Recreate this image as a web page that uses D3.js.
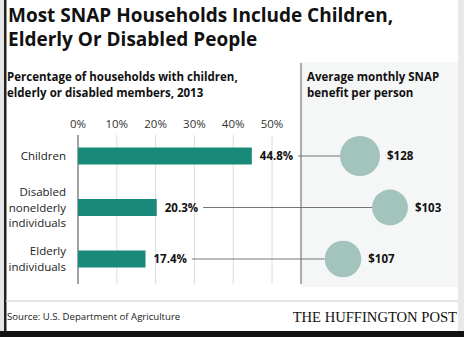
<!DOCTYPE html>
<html>
<head>
<meta charset="utf-8">
<script src="https://cdn.jsdelivr.net/npm/d3@7"></script>
<style>
  body { margin: 0; background: #fff; }
  svg { display: block; font-family: "Open Sans", sans-serif; }
</style>
</head>
<body>
<svg id="chart" width="464" height="337"></svg>
<script>
// data
const categories = ["Children", "Disabled nonelderly individuals", "Elderly individuals"];
const categoryLines = [["Children"], ["Disabled", "nonelderly", "individuals"], ["Elderly", "individuals"]];
const sharePct = [44.8, 20.3, 17.4];
const benefit = [128, 103, 107];
const pctTicks = [0, 10, 20, 30, 40, 50];

const W = 464, H = 337;
const barColor = "#198a79";
const bubbleColor = "#a2c4bd";

const svg = d3.select("#chart");

// frame
svg.append("rect").attr("width", W).attr("height", H).attr("fill", "#fff");
svg.append("rect").attr("x", 0).attr("y", 0).attr("width", 4).attr("height", H).attr("fill", "#e6e6e6");
svg.append("rect").attr("x", 458).attr("y", 0).attr("width", 6).attr("height", H).attr("fill", "#e9e9e9");
svg.append("rect").attr("x", 4).attr("y", 0).attr("width", 2.5).attr("height", 331).attr("fill", "#222");
svg.append("rect").attr("x", 0).attr("y", 331).attr("width", W).attr("height", 6).attr("fill", "#111");

// right panel background
svg.append("rect").attr("x", 301).attr("y", 62).attr("width", 157).attr("height", 225).attr("fill", "#f5f6f6");

// title
svg.append("text")
    .attr("x", 8).attr("y", 22)
    .style("font-size", "19px").style("font-weight", 700).attr("fill", "#111")
    .text("Most SNAP Households Include Children,");
svg.append("text")
    .attr("x", 8).attr("y", 46)
    .style("font-size", "19px").style("font-weight", 700).attr("fill", "#111")
    .text("Elderly Or Disabled People");

// subtitles
const sub = svg.append("text").attr("y", 81)
    .style("font-size", "11.5px").style("font-weight", 700).attr("fill", "#111");
sub.append("tspan").attr("x", 7).text("Percentage of households with children,");
sub.append("tspan").attr("x", 7).attr("dy", 16).text("elderly or disabled members, 2013");

const sub2 = svg.append("text").attr("y", 81)
    .style("font-size", "11.5px").style("font-weight", 700).attr("fill", "#111");
sub2.append("tspan").attr("x", 307).text("Average monthly SNAP");
sub2.append("tspan").attr("x", 307).attr("dy", 16).text("benefit per person");

// scales
const x = d3.scaleLinear().domain([0, 50]).range([78, 272]);
const y = d3.scalePoint().domain(categories).range([156, 259]);
const barH = 17;
const r = d3.scaleSqrt().domain([0, d3.max(benefit)]).range([0, 20]);
const bubbleX = d3.scaleOrdinal().domain(categories).range([360, 390, 343]);

const rows = categories.map((c, i) => ({
    cat: c, lines: categoryLines[i], pct: sharePct[i], val: benefit[i]
}));

// gridlines + tick labels
const grid = svg.append("g");
grid.selectAll("line")
    .data(pctTicks)
    .enter().append("line")
        .attr("x1", d => x(d)).attr("x2", d => x(d))
        .attr("y1", 135).attr("y2", 284)
        .attr("stroke", d => d === 0 ? "#444" : "#dcdcdc")
        .attr("stroke-width", 1);
grid.selectAll("text")
    .data(pctTicks)
    .enter().append("text")
        .attr("x", d => x(d)).attr("y", 128)
        .attr("text-anchor", "middle")
        .style("font-size", "11.5px")
        .attr("fill", "#333")
        .text(d => d + "%");

// panel divider
svg.append("line")
    .attr("x1", 301).attr("x2", 301).attr("y1", 63).attr("y2", 284)
    .attr("stroke", "#777").attr("stroke-width", 1.2);

// bars
svg.append("g").selectAll("rect")
    .data(rows)
    .enter().append("rect")
        .attr("x", x(0))
        .attr("y", d => y(d.cat) - barH / 2)
        .attr("width", d => x(d.pct) - x(0))
        .attr("height", barH)
        .attr("fill", barColor);

// bar value labels
const pctLabels = svg.append("g").selectAll("text")
    .data(rows)
    .enter().append("text")
        .attr("x", d => x(d.pct) + 8)
        .attr("y", d => y(d.cat))
        .attr("dy", "0.35em")
        .style("font-size", "11.5px").style("font-weight", 700)
        .attr("fill", "#111")
        .text(d => d.pct.toFixed(1) + "%");

// connectors
const labelEnds = [];
pctLabels.each(function() { const b = this.getBBox(); labelEnds.push(b.x + b.width); });
svg.append("g").selectAll("line")
    .data(rows)
    .enter().append("line")
        .attr("x1", (d, i) => labelEnds[i] + 5)
        .attr("x2", d => bubbleX(d.cat) - r(d.val))
        .attr("y1", d => y(d.cat)).attr("y2", d => y(d.cat))
        .attr("stroke", "#666").attr("stroke-width", 0.9);

// category labels
const cl = svg.append("g").selectAll("text")
    .data(rows)
    .enter().append("text")
        .attr("text-anchor", "end")
        .style("font-size", "11.5px")
        .attr("fill", "#222");
cl.each(function(d) {
    const n = d.lines.length;
    d3.select(this).selectAll("tspan")
        .data(d.lines)
        .enter().append("tspan")
            .attr("x", 66)
            .attr("y", (t, j) => y(d.cat) + (j - (n - 1) / 2) * 15.5)
            .attr("dy", "0.35em")
            .text(t => t);
});

// bubbles
svg.append("g").selectAll("circle")
    .data(rows)
    .enter().append("circle")
        .attr("cx", d => bubbleX(d.cat))
        .attr("cy", d => y(d.cat))
        .attr("r", d => r(d.val))
        .attr("fill", bubbleColor);

svg.append("g").selectAll("text")
    .data(rows)
    .enter().append("text")
        .attr("x", d => bubbleX(d.cat) + r(d.val) + 7)
        .attr("y", d => y(d.cat))
        .attr("dy", "0.35em")
        .style("font-size", "11.5px").style("font-weight", 700)
        .attr("fill", "#111")
        .text(d => "$" + d.val);

// footer
svg.append("line")
    .attr("x1", 6).attr("x2", 458).attr("y1", 301).attr("y2", 301)
    .attr("stroke", "#ddd").attr("stroke-width", 1.5);
svg.append("text")
    .attr("x", 7).attr("y", 320)
    .style("font-size", "9.6px")
    .attr("fill", "#222")
    .text("Source: U.S. Department of Agriculture");
svg.append("text")
    .attr("x", 457).attr("y", 322)
    .attr("text-anchor", "end")
    .style("font-family", "'Liberation Serif', serif")
    .style("font-size", "14.6px")
    .attr("fill", "#111")
    .text("THE HUFFINGTON POST");
</script>
</body>
</html>
